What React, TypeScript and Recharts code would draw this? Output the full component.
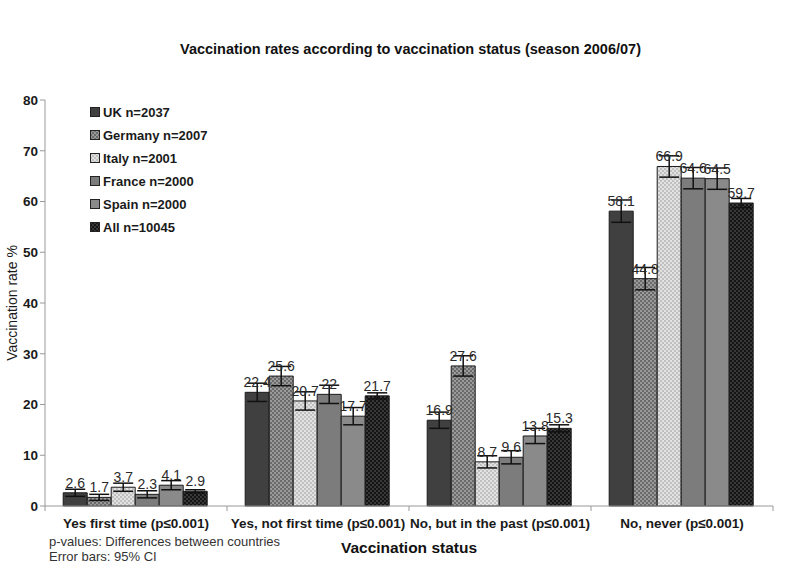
import React from 'react';
import { BarChart, Bar, XAxis, YAxis, ErrorBar, LabelList } from 'recharts';

const categories = [
  'Yes first time (p\u22640.001)',
  'Yes, not first time (p\u22640.001)',
  'No, but in the past (p\u22640.001)',
  'No, never (p\u22640.001)',
];

const ukValues = [2.6, 22.4, 16.9, 58.1];
const germanyValues = [1.7, 25.6, 27.6, 44.8];
const italyValues = [3.7, 20.7, 8.7, 66.9];
const franceValues = [2.3, 22, 9.6, 64.6];
const spainValues = [4.1, 17.7, 13.8, 64.5];
const allValues = [2.9, 21.7, 15.3, 59.7];

// half-width of the 95% CI
const ukErr = [0.7, 1.8, 1.6, 2.2];
const germanyErr = [0.6, 1.9, 2.0, 2.2];
const italyErr = [0.8, 1.8, 1.2, 2.1];
const franceErr = [0.7, 1.8, 1.3, 2.1];
const spainErr = [0.9, 1.7, 1.5, 2.1];
const allErr = [0.3, 0.6, 0.7, 0.9];

const yTicks = [0, 10, 20, 30, 40, 50, 60, 70, 80];

const series = [
  { key: 'uk', name: 'UK n=2037', values: ukValues, err: ukErr, fill: '#404040' },
  { key: 'germany', name: 'Germany n=2007', values: germanyValues, err: germanyErr, fill: 'url(#patGermany)' },
  { key: 'italy', name: 'Italy n=2001', values: italyValues, err: italyErr, fill: 'url(#patItaly)' },
  { key: 'france', name: 'France n=2000', values: franceValues, err: franceErr, fill: '#7c7c7c' },
  { key: 'spain', name: 'Spain n=2000', values: spainValues, err: spainErr, fill: '#8a8a8a' },
  { key: 'all', name: 'All n=10045', values: allValues, err: allErr, fill: 'url(#patAll)' },
];

const data = categories.map((c, i) => {
  const row: Record<string, string | number> = { category: c };
  series.forEach((s) => {
    row[s.key] = s.values[i];
    row[s.key + 'Err'] = s.err[i];
  });
  return row;
});

const W = 785;
const H = 588;
const margin = { top: 100, right: 12, left: 0, bottom: 52 };
const yAxisWidth = 45;
const halfBand = (W - margin.left - margin.right - yAxisWidth) / categories.length / 2;
const font = '"Liberation Sans", Arial, sans-serif';

function CategoryTick(props: any) {
  const { x, y, payload, index } = props;
  return (
    <g>
      <line x1={x - halfBand} x2={x - halfBand} y1={y - 8} y2={y - 3} stroke="#999" />
      {index === categories.length - 1 && (
        <line x1={x + halfBand} x2={x + halfBand} y1={y - 8} y2={y - 3} stroke="#999" />
      )}
      <text x={x} y={y + 14} textAnchor="middle" fontSize={13.5} fontWeight="bold" fill="#1a1a1a" fontFamily={font}>
        {payload.value}
      </text>
    </g>
  );
}

function LegendBox() {
  return (
    <div style={{ position: 'absolute', left: 90, top: 101, fontFamily: font, fontSize: 13, fontWeight: 'bold', color: '#1a1a1a' }}>
      {series.map((s) => (
        <div key={s.key} style={{ display: 'flex', alignItems: 'center', height: 23 }}>
          <svg width={11} height={11} style={{ marginRight: 2 }}>
            <rect x={0.5} y={0.5} width={9} height={9} fill={s.fill} stroke="#222" />
          </svg>
          {s.name}
        </div>
      ))}
    </div>
  );
}

export default function App() {
  return (
    <div style={{ position: 'absolute', left: 0, top: 0, width: W, height: H, background: '#fff', fontFamily: font }}>
      <div style={{ position: 'absolute', left: 0, width: W, top: 41, textAlign: 'center', fontSize: 14.5, fontWeight: 'bold', color: '#111', paddingLeft: 18 }}>
        Vaccination rates according to vaccination status (season 2006/07)
      </div>
      <BarChart width={W} height={H} data={data} margin={margin} barCategoryGap="10%" barGap={0}>
        <defs>
          <pattern id="patGermany" width="4" height="4" patternUnits="userSpaceOnUse">
            <rect width="4" height="4" fill="#9a9a9a" />
            <rect width="2" height="2" fill="#6a6a6a" />
            <rect x="2" y="2" width="2" height="2" fill="#6a6a6a" />
          </pattern>
          <pattern id="patItaly" width="4" height="4" patternUnits="userSpaceOnUse">
            <rect width="4" height="4" fill="#e2e2e2" />
            <rect width="2" height="2" fill="#c0c0c0" />
            <rect x="2" y="2" width="2" height="2" fill="#c0c0c0" />
          </pattern>
          <pattern id="patAll" width="4" height="4" patternUnits="userSpaceOnUse">
            <rect width="4" height="4" fill="#141414" />
            <rect width="2" height="2" fill="#383838" />
            <rect x="2" y="2" width="2" height="2" fill="#383838" />
          </pattern>
        </defs>
        <XAxis
          dataKey="category"
          height={30}
          stroke="#999"
          tickLine={false}
          tick={<CategoryTick />}
          interval={0}
          label={{
            value: 'Vaccination status',
            position: 'insideBottom',
            offset: -17,
            style: { fontSize: 15.5, fontWeight: 'bold', fill: '#111', fontFamily: font },
          }}
        />
        <YAxis
          width={yAxisWidth}
          domain={[0, 80]}
          ticks={yTicks}
          stroke="#999"
          tickSize={5}
          tick={{ fontSize: 13.5, fontWeight: 'bold', fill: '#1a1a1a', fontFamily: font }}
          label={{
            value: 'Vaccination rate %',
            angle: -90,
            position: 'insideLeft',
            offset: 12,
            style: { fontSize: 14, fill: '#1a1a1a', fontFamily: font, textAnchor: 'middle' },
          }}
        />
        {series.map((s) => (
          <Bar
            key={s.key}
            dataKey={s.key}
            name={s.name}
            fill={s.fill}
            stroke="#1a1a1a"
            strokeWidth={1}
            isAnimationActive={false}
          >
            <ErrorBar dataKey={s.key + 'Err'} width={10} stroke="#111" strokeWidth={1.5} direction="y" />
            <LabelList
              dataKey={s.key}
              position="top"
              offset={5}
              style={{ fontSize: 14, fill: '#2a2a2a', fontFamily: font }}
            />
          </Bar>
        ))}
      </BarChart>
      <LegendBox />
      <div style={{ position: 'absolute', left: 49, top: 534, fontSize: 13, color: '#333', lineHeight: '15px' }}>
        p-values: Differences between countries
        <br />
        Error bars: 95% CI
      </div>
    </div>
  );
}
